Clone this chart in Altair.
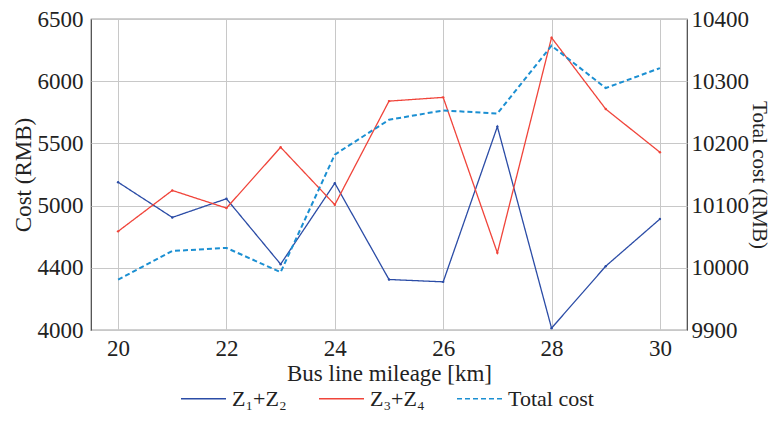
import altair as alt
import pandas as pd

mileage = [20, 21, 22, 23, 24, 25, 26, 27, 28, 29, 30]
z12 = [5188, 4905, 5055, 4529, 5180, 4406, 4387, 5635, 4015, 4513, 4892]
z34 = [4793, 5122, 4980, 5469, 5007, 5840, 5870, 4620, 6350, 5776, 5429]
total = [9981, 10027, 10032, 9993, 10182, 10238, 10253, 10248, 10357, 10289, 10321]

series_names = ["Z\u2081+Z\u2082", "Z\u2083+Z\u2084", "Total cost"]
series_colors = ["#2b4ca6", "#f0443a", "#1b8fd2"]
series_dash = [[1, 0], [1, 0], [5, 3]]

left_ticks = [4000, 4500, 5000, 5500, 6000, 6500]
right_ticks = [9900, 10000, 10100, 10200, 10300, 10400]
x_ticks = [20, 22, 24, 26, 28, 30]

rows = []
for i, m in enumerate(mileage):
    rows.append({"mileage": m, "series": series_names[0], "value": z12[i]})
    rows.append({"mileage": m, "series": series_names[1], "value": z34[i]})
    rows.append({"mileage": m, "series": series_names[2], "value": total[i]})
df = pd.DataFrame(rows)

FONT = "Liberation Serif, DejaVu Serif, serif"
FS = 23

legend_cfg = dict(
    title=None, orient="none", direction="horizontal",
    legendX=89, legendY=356,
    symbolType="stroke", symbolSize=2025, symbolStrokeWidth=1.6,
    labelFont=FONT, labelFontSize=22, labelColor="#222",
    labelOffset=5, columnPadding=28, labelLimit=300,
)

color = alt.Color(
    "series:N",
    scale=alt.Scale(domain=series_names, range=series_colors),
    sort=series_names,
    legend=alt.Legend(**legend_cfg),
)
dash = alt.StrokeDash(
    "series:N",
    scale=alt.Scale(domain=series_names, range=series_dash),
    sort=series_names,
    legend=alt.Legend(**legend_cfg),
)

x = alt.X(
    "mileage:Q",
    scale=alt.Scale(domain=[19.5, 30.5], nice=False, zero=False),
    axis=alt.Axis(values=x_ticks, title="Bus line mileage [km]", format="d",
                  grid=True, gridColor="#c8c8c8", ticks=False, labelPadding=7,
                  titlePadding=2, domain=False),
)

left = alt.Chart(df).transform_filter(
    alt.FieldOneOfPredicate(field="series", oneOf=series_names[:2])
).mark_line(strokeWidth=1.3, point=alt.OverlayMarkDef(size=6, filled=True)).encode(
    x=x,
    y=alt.Y("value:Q",
            scale=alt.Scale(domain=[4000, 6500], nice=False, zero=False),
            axis=alt.Axis(values=left_ticks, title="Cost (RMB)", format="d",
                          labelExpr="datum.value == 4500 ? '4400' : datum.label",
                          grid=True, gridColor="#c8c8c8", ticks=False,
                          labelPadding=8, titlePadding=2, domain=False)),
    color=color,
    strokeDash=dash,
)

right = alt.Chart(df).transform_filter(
    alt.FieldEqualPredicate(field="series", equal=series_names[2])
).mark_line(strokeWidth=2).encode(
    x=x,
    y=alt.Y("value:Q",
            scale=alt.Scale(domain=[9900, 10400], nice=False, zero=False),
            axis=alt.Axis(values=right_ticks, title="Total cost (RMB)", format="d",
                          orient="right", grid=False, ticks=False,
                          labelPadding=4, titlePadding=0, titleFontSize=21,
                          domain=False)),
    color=color,
    strokeDash=dash,
)

chart = alt.layer(left, right).resolve_scale(y="independent").properties(
    width=596, height=311,
    autosize=alt.AutoSizeParams(type="none"),
    padding={"left": 83, "top": 11, "right": 85, "bottom": 83},
).configure_view(
    stroke="#444", strokeWidth=1.2
).configure_axis(
    labelFont=FONT, labelFontSize=FS, labelColor="#222",
    titleFont=FONT, titleFontSize=FS, titleColor="#222", titleFontWeight="normal",
)

chart.save("out.html", embed_options={"renderer": "svg", "actions": False})
